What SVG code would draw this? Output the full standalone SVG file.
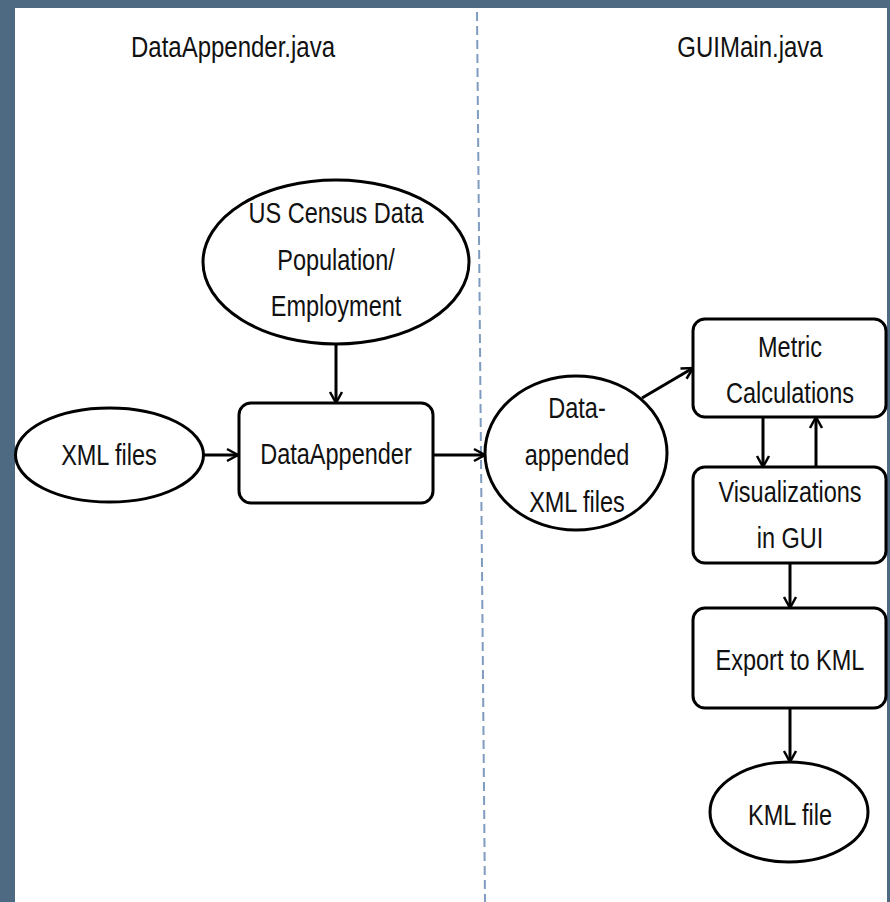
<svg xmlns="http://www.w3.org/2000/svg" width="890" height="902" viewBox="0 0 890 902">
<style>
.shape{fill:#fff;stroke:#000;stroke-width:3}
.lbl{font-family:"Liberation Sans",Arial,sans-serif;font-size:23.5px;fill:#111;text-anchor:middle}
.ttl{font-family:"Liberation Sans",Arial,sans-serif;font-size:24px;fill:#111;text-anchor:middle}
.conn{stroke:#000;stroke-width:3;fill:none;marker-end:url(#arr)}
</style>
<defs>
<marker id="arr" markerUnits="userSpaceOnUse" markerWidth="16" markerHeight="16" refX="13" refY="8" orient="auto">
<path d="M2,2 L13,8 L2,14" fill="none" stroke="#000" stroke-width="2.5"/>
</marker>
</defs>
<rect x="0" y="0" width="890" height="902" fill="#4e6a82"/>
<rect x="15" y="8" width="872" height="894" fill="#fff"/>
<line x1="477" y1="12" x2="485" y2="902" stroke="#7f9cc0" stroke-width="2" stroke-dasharray="9 5"/>
<g id="titles">
<text class="ttl" transform="translate(233,57) scale(1,1.26)">DataAppender.java</text>
<text class="ttl" transform="translate(750,57) scale(1,1.26)">GUIMain.java</text>
</g>
<g id="connectors">
<line class="conn" x1="336" y1="345" x2="336" y2="403"/>
<line class="conn" x1="203" y1="455" x2="238" y2="455"/>
<line class="conn" x1="433" y1="455" x2="485" y2="455"/>
<line class="conn" x1="642" y1="398" x2="693" y2="368"/>
<line class="conn" x1="763" y1="417" x2="763" y2="467"/>
<line class="conn" x1="816" y1="467" x2="816" y2="417"/>
<line class="conn" x1="790" y1="563" x2="790" y2="608"/>
<line class="conn" x1="790" y1="708" x2="790" y2="762"/>
</g>
<g id="census">
<ellipse class="shape" cx="336" cy="262" rx="133" ry="82"/>
<text class="lbl" transform="translate(336,223) scale(1,1.28)"><tspan x="0" dy="0">US Census Data</tspan><tspan x="0" dy="36.4">Population/</tspan><tspan x="0" dy="36.4">Employment</tspan></text>
</g>
<g id="xmlfiles">
<ellipse class="shape" cx="109.5" cy="455" rx="94" ry="47"/>
<text class="lbl" transform="translate(109,465) scale(1,1.28)">XML files</text>
</g>
<g id="dataappender">
<rect class="shape" x="239" y="403" width="194" height="100" rx="12"/>
<text class="lbl" transform="translate(336,464) scale(1,1.28)">DataAppender</text>
</g>
<g id="appended">
<ellipse class="shape" cx="576" cy="453" rx="91" ry="77"/>
<text class="lbl" transform="translate(577,418) scale(1,1.28)"><tspan x="0" dy="0">Data-</tspan><tspan x="0" dy="36.7">appended</tspan><tspan x="0" dy="36.7">XML files</tspan></text>
</g>
<g id="metric">
<rect class="shape" x="693" y="319" width="193" height="98" rx="12"/>
<text class="lbl" transform="translate(790,357) scale(1,1.28)"><tspan x="0" dy="0">Metric</tspan><tspan x="0" dy="35.9">Calculations</tspan></text>
</g>
<g id="visualizations">
<rect class="shape" x="693" y="467" width="193" height="96" rx="12"/>
<text class="lbl" transform="translate(790,502) scale(1,1.28)"><tspan x="0" dy="0">Visualizations</tspan><tspan x="0" dy="35.9">in GUI</tspan></text>
</g>
<g id="export">
<rect class="shape" x="693" y="608" width="193" height="100" rx="12"/>
<text class="lbl" transform="translate(790,670) scale(1,1.28)">Export to KML</text>
</g>
<g id="kmlfile">
<ellipse class="shape" cx="789" cy="812" rx="79" ry="50"/>
<text class="lbl" transform="translate(790,825) scale(1,1.28)">KML file</text>
</g>
</svg>
